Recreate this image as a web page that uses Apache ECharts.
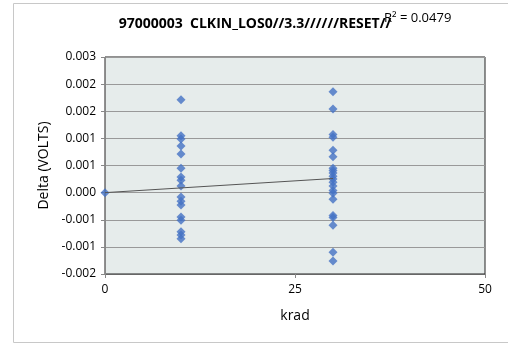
<!DOCTYPE html>
<html>
<head>
<meta charset="utf-8">
<script src="https://cdn.jsdelivr.net/npm/echarts@6/dist/echarts.min.js"></script>
<style>html,body{margin:0;padding:0;background:#fff;}#c{width:508px;height:345px;}</style>
</head>
<body>
<div id="c"></div>
<script>
var titleText = '97000003  CLKIN_LOS0//3.3//////RESET//';
var r2Text = 'R\u00b2 = 0.0479';
var xName = 'krad';
var yName = 'Delta (VOLTS)';
var yMin = -0.0015, yMax = 0.0025, yStep = 0.0005;

var x0 = [0];
var y0 = [0];
var x10 = [10,10,10,10,10,10,10,10,10,10,10,10,10,10,10,10,10];
var y10 = [0.00171,0.00105,0.00099,0.00086,0.00071,0.00045,0.00029,0.00023,0.00012,-0.00008,-0.00016,-0.00023,-0.00045,-0.00051,-0.00072,-0.00078,-0.00085];
var x30 = [30,30,30,30,30,30,30,30,30,30,30,30,30,30,30,30,30,30,30,30,30];
var y30 = [0.00186,0.00154,0.00107,0.00102,0.00078,0.00066,0.00045,0.00041,0.00036,0.00030,0.00025,0.00019,0.00012,0.00004,-0.00001,-0.00012,-0.00042,-0.00046,-0.00060,-0.00110,-0.00126];

var xs = x0.concat(x10, x30);
var ys = y0.concat(y10, y30);
var pts = xs.map(function(x, i){ return [x, ys[i]]; });

// least squares trend through origin
var sxx = 0, sxy = 0;
for (var i = 0; i < xs.length; i++) { sxx += xs[i]*xs[i]; sxy += xs[i]*ys[i]; }
var slope = sxy / sxx;
var xLo = Math.min.apply(null, xs), xHi = Math.max.apply(null, xs);
var trend = [[xLo, slope*xLo], [xHi, slope*xHi]];

function fmtY(v) {
  var s = v < 0 ? -1 : 1;
  var r = Math.round(Math.abs(v)*1000 + 1e-9) / 1000;
  return (s < 0 && r !== 0 ? '-' : '') + r.toFixed(3);
}

var chart = echarts.init(document.getElementById('c'), null, {renderer: 'canvas'});
var font = '"Open Sans", sans-serif';
chart.setOption({
  animation: false,
  textStyle: {fontFamily: font},
  graphic: [
    {type: 'rect', shape: {x: 13.5, y: 3.5, width: 520, height: 339}, style: {fill: 'none', stroke: '#c8c8c8', lineWidth: 1}, z: -10},
    {type: 'text', x: 255, y: 24, style: {text: titleText, font: 'bold 14px ' + font, fill: '#000', textAlign: 'center', textVerticalAlign: 'middle'}},
    {type: 'text', x: 384, y: 18, style: {text: r2Text, font: '13px ' + font, fill: '#000', textAlign: 'left', textVerticalAlign: 'middle'}}
  ],
  grid: {left: 105, right: 23, top: 57, bottom: 71, show: true, backgroundColor: '#e6eceb', borderColor: '#222', borderWidth: 1},
  xAxis: {
    type: 'value', min: 0, max: 50, interval: 25,
    name: xName, nameLocation: 'middle', nameGap: 35,
    nameTextStyle: {fontSize: 14, color: '#000', fontFamily: font},
    axisLine: {show: true, onZero: false, lineStyle: {color: '#666'}},
    axisTick: {show: true, inside: false, length: 4, lineStyle: {color: '#888'}},
    axisLabel: {fontSize: 12, color: '#000', margin: 10, fontFamily: font},
    splitLine: {show: false}
  },
  yAxis: {
    type: 'value', min: yMin, max: yMax, interval: yStep,
    name: yName, nameLocation: 'middle', nameGap: 52, nameRotate: 90,
    nameTextStyle: {fontSize: 14, color: '#000', fontFamily: font},
    axisLine: {show: true, lineStyle: {color: '#888'}},
    axisTick: {show: true, length: 4, lineStyle: {color: '#888'}},
    axisLabel: {fontSize: 12, color: '#000', margin: 9, formatter: fmtY, fontFamily: font},
    splitLine: {show: true, lineStyle: {color: '#999', width: 1}}
  },
  series: [
    {type: 'scatter', data: pts, symbol: 'diamond', symbolSize: 9, itemStyle: {color: '#4472c4'}, z: 3},
    {type: 'line', data: trend, symbol: 'none', lineStyle: {color: '#555', width: 1}, z: 4, silent: true}
  ]
});
</script>
</body>
</html>
